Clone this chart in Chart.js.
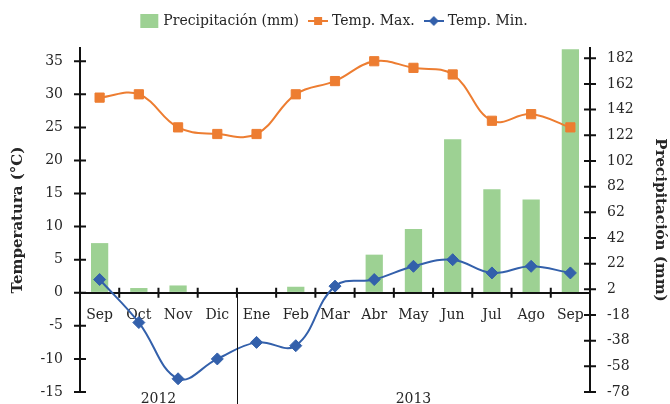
<!DOCTYPE html>
<html>
<head>
<meta charset="utf-8">
<script src="https://cdn.jsdelivr.net/npm/chart.js@4/dist/chart.umd.min.js"></script>
<style>
  html, body { margin: 0; padding: 0; background: #fff; }
  #wrap { width: 670px; height: 404px; }
</style>
</head>
<body>
<div id="wrap"><canvas id="climaChart"></canvas></div>
<script>
const months = ['Sep', 'Oct', 'Nov', 'Dic', 'Ene', 'Feb', 'Mar', 'Abr', 'May', 'Jun', 'Jul', 'Ago', 'Sep'];
const precipitation = [38, 3, 5, 0, 0, 4, 0, 29, 49, 119, 80, 72, 189];
const tempMax = [29.5, 30, 25, 24, 24, 30, 32, 35, 34, 33, 26, 27, 25];
const tempMin = [2, -4.5, -13, -10, -7.5, -8, 1, 2, 4, 5, 3, 4, 3];
const tempTicks = [-15, -10, -5, 0, 5, 10, 15, 20, 25, 30, 35];
const precipTicks = [-78, -58, -38, -18, 2, 22, 42, 62, 82, 102, 122, 142, 162, 182];
const years = ['2012', '2013'];
const yearSpans = [[0, 3], [4, 12]];

const colors = {
    green: '#9dd193',
    orange: '#ed7d31',
    blue: '#3360ab',
    axis: '#111111',
    text: '#262626'
};

Chart.defaults.font.family = 'DejaVu Serif';
Chart.defaults.font.size = 14;
Chart.defaults.color = colors.text;

// small legend icons: box for the bars, line + marker for the series
function makeIcon(draw) {
    const c = document.createElement('canvas');
    c.width = 20;
    c.height = 14;
    draw(c.getContext('2d'));
    return c;
}
const legendIcons = [
    makeIcon(g => {
        g.fillStyle = colors.green;
        g.fillRect(1, 0, 18, 14);
    }),
    makeIcon(g => {
        g.strokeStyle = colors.orange;
        g.lineWidth = 2;
        g.beginPath(); g.moveTo(0, 7); g.lineTo(20, 7); g.stroke();
        g.fillStyle = colors.orange;
        g.fillRect(6, 3, 8, 8);
    }),
    makeIcon(g => {
        g.strokeStyle = colors.blue;
        g.lineWidth = 2;
        g.beginPath(); g.moveTo(0, 7); g.lineTo(20, 7); g.stroke();
        g.fillStyle = colors.blue;
        g.beginPath();
        g.moveTo(10, 2); g.lineTo(15, 7); g.lineTo(10, 12); g.lineTo(5, 7);
        g.closePath(); g.fill();
    })
];

// extra space under the legend
const legendGap = {
    id: 'legendGap',
    beforeInit(chart) {
        const fit = chart.legend.fit;
        chart.legend.fit = function () {
            fit.call(this);
            this.height += 10;
        };
    }
};

// fixed width for the side axes, no extra vertical padding from their labels
function sideAxisFit(axis) {
    axis.width = 80;
    axis.paddingTop = 0;
    axis.paddingBottom = 0;
}

// crossing tick marks, year labels and the year divider
const axisDecor = {
    id: 'axisDecor',
    afterDraw(chart) {
        const {ctx, chartArea, scales: {x, y, y1}} = chart;
        const y0 = y.getPixelForValue(0);
        ctx.save();
        ctx.strokeStyle = colors.axis;
        ctx.lineWidth = 2;
        ctx.beginPath();
        y.ticks.forEach(t => {
            const py = y.getPixelForValue(t.value);
            ctx.moveTo(chartArea.left - 6, py);
            ctx.lineTo(chartArea.left + 6, py);
        });
        y1.ticks.forEach(t => {
            const py = y1.getPixelForValue(t.value);
            ctx.moveTo(chartArea.right - 6, py);
            ctx.lineTo(chartArea.right + 6, py);
        });
        for (let i = 0; i < months.length - 1; i++) {
            const px = x.getPixelForValue(i + 0.5);
            ctx.moveTo(px, y0 - 5);
            ctx.lineTo(px, y0 + 5);
        }
        ctx.stroke();

        ctx.lineWidth = 1;
        ctx.beginPath();
        const dx = Math.round(x.getPixelForValue(yearSpans[0][1] + 0.5)) + 0.5;
        ctx.moveTo(dx, y0);
        ctx.lineTo(dx, chart.height);
        ctx.stroke();

        ctx.fillStyle = colors.text;
        ctx.font = '14px "DejaVu Serif"';
        ctx.textAlign = 'center';
        ctx.textBaseline = 'top';
        years.forEach((yr, i) => {
            const mid = (yearSpans[i][0] + yearSpans[i][1]) / 2;
            ctx.fillText(yr, x.getPixelForValue(mid), chartArea.bottom);
        });
        ctx.restore();
    }
};

const ctx = document.getElementById('climaChart').getContext('2d');
new Chart(ctx, {
    type: 'bar',
    data: {
        labels: months,
        datasets: [{
            type: 'bar',
            label: 'Precipitación (mm)',
            data: precipitation,
            yAxisID: 'y1',
            backgroundColor: colors.green,
            barPercentage: 0.44,
            categoryPercentage: 1,
            order: 3
        }, {
            type: 'line',
            label: 'Temp. Max.',
            data: tempMax,
            yAxisID: 'y',
            borderColor: colors.orange,
            backgroundColor: colors.orange,
            borderWidth: 2,
            tension: 0.4,
            pointStyle: 'rect',
            pointRadius: 6.5,
            pointBorderWidth: 1,
            order: 2
        }, {
            type: 'line',
            label: 'Temp. Min.',
            data: tempMin,
            yAxisID: 'y',
            borderColor: colors.blue,
            backgroundColor: colors.blue,
            borderWidth: 2,
            tension: 0.4,
            pointStyle: 'rectRot',
            pointRadius: 6,
            pointBorderWidth: 1,
            order: 1
        }]
    },
    options: {
        maintainAspectRatio: false,
        responsive: true,
        animation: false,
        layout: {
            padding: {
                top: 2,
                bottom: 12,
                left: 0,
                right: 0
            }
        },
        plugins: {
            tooltip: { enabled: false },
            legend: {
                position: 'top',
                labels: {
                    usePointStyle: true,
                    pointStyleWidth: 14,
                    padding: 12,
                    font: { size: 14 },
                    generateLabels: chart => chart.data.datasets.map((ds, i) => ({
                        text: ds.label,
                        pointStyle: legendIcons[i],
                        fillStyle: 'transparent',
                        strokeStyle: 'transparent',
                        lineWidth: 0,
                        hidden: false,
                        datasetIndex: i,
                        fontColor: colors.text
                    }))
                }
            }
        },
        scales: {
            x: {
                position: { y: 0 },
                grid: { display: false, drawTicks: false },
                border: { display: true, color: colors.axis, width: 2 },
                ticks: {
                    autoSkip: false,
                    maxRotation: 0,
                    padding: 14,
                    font: { size: 14 }
                }
            },
            y: {
                position: 'left',
                min: -15,
                max: 37,
                afterBuildTicks: axis => {
                    axis.ticks = tempTicks.map(v => ({ value: v }));
                },
                afterFit: sideAxisFit,
                grid: { display: false, drawTicks: false },
                border: { display: true, color: colors.axis, width: 2 },
                ticks: { padding: 17, font: { size: 14 } },
                title: {
                    display: true,
                    text: 'Temperatura (°C)',
                    padding: 9,
                    font: { size: 15, weight: 'bold' }
                }
            },
            y1: {
                position: 'right',
                min: -78,
                max: 190,
                afterBuildTicks: axis => {
                    axis.ticks = precipTicks.map(v => ({ value: v }));
                },
                afterFit: sideAxisFit,
                grid: { display: false, drawTicks: false },
                border: { display: true, color: colors.axis, width: 2 },
                ticks: { padding: 17, font: { size: 14 } },
                title: {
                    display: true,
                    text: 'Precipitación (mm)',
                    padding: 1,
                    font: { size: 15, weight: 'bold' }
                }
            }
        }
    },
    plugins: [legendGap, axisDecor]
});
</script>
</body>
</html>
